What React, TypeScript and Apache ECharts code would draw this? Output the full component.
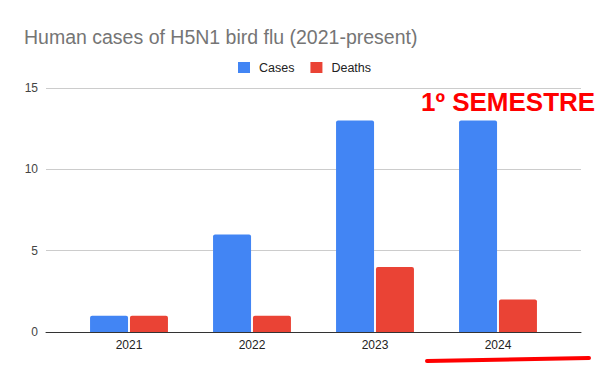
import React, { useEffect, useRef } from "react";
import * as echarts from "echarts";

const years = ["2021", "2022", "2023", "2024"];
const cases = [1, 6, 13, 13];
const deaths = [1, 1, 4, 2];
const yMin = 0;
const yMax = 15;
const yStep = 5;

const FONT = "'Liberation Sans', Arial, sans-serif";

export default function App() {
  const ref = useRef<HTMLDivElement>(null);
  useEffect(() => {
    if (!ref.current) return;
    const chart = echarts.init(ref.current, undefined, { renderer: "svg" });
    chart.setOption({
      animation: false,
      backgroundColor: "#ffffff",
      title: {
        text: "Human cases of H5N1 bird flu (2021-present)",
        left: 19,
        top: 22,
        textStyle: { fontFamily: FONT, fontSize: 19.5, fontWeight: "normal", color: "#757575" },
      },
      legend: {
        left: 233,
        top: 56,
        itemWidth: 12,
        itemHeight: 11,
        itemGap: 16,
        icon: "rect",
        textStyle: { fontFamily: FONT, fontSize: 12.5, color: "#222222", padding: [0, 0, 0, 4] },
        data: ["Cases", "Deaths"],
      },
      grid: [
        { left: 46, right: 19, top: 88, bottom: 39 },
        { left: 67.5, right: 40.5, top: 88, bottom: 39 },
      ],
      xAxis: [
        {
          type: "value",
          gridIndex: 0,
          min: 0,
          max: 1,
          axisLine: { show: true, onZero: false, lineStyle: { color: "#333333", width: 1 } },
          axisTick: { show: false },
          axisLabel: { show: false },
          splitLine: { show: false },
        },
        {
          type: "category",
          gridIndex: 1,
          data: years,
          axisLine: { show: false },
          axisTick: { show: false },
          axisLabel: { fontFamily: FONT, fontSize: 12, color: "#222222", margin: 7 },
          splitLine: { show: false },
        },
      ],
      yAxis: [
        {
          type: "value",
          gridIndex: 0,
          min: yMin,
          max: yMax,
          interval: yStep,
          axisLine: { show: false },
          axisTick: { show: false },
          axisLabel: { fontFamily: FONT, fontSize: 12, color: "#444444", margin: 8 },
          splitLine: { show: true, lineStyle: { color: "#cccccc", width: 1 } },
        },
        {
          type: "value",
          gridIndex: 1,
          min: yMin,
          max: yMax,
          interval: yStep,
          show: false,
          splitLine: { show: false },
        },
      ],
      series: [
        {
          name: "Cases",
          type: "bar",
          xAxisIndex: 1,
          yAxisIndex: 1,
          data: cases,
          barWidth: 38,
          barGap: "5%",
          itemStyle: { color: "#4285f4", borderRadius: [2, 2, 0, 0] },
        },
        {
          name: "Deaths",
          type: "bar",
          xAxisIndex: 1,
          yAxisIndex: 1,
          data: deaths,
          barWidth: 38,
          barGap: "5%",
          itemStyle: { color: "#ea4335", borderRadius: [2, 2, 0, 0] },
        },
      ],
      graphic: [
        {
          type: "text",
          x: 421,
          y: 102,
          style: {
            text: "1º SEMESTRE",
            font: "bold 26px 'Liberation Sans', Arial, sans-serif",
            fill: "#ff0000",
            verticalAlign: "middle",
            align: "left",
          },
        },
        {
          type: "line",
          shape: { x1: 427, y1: 361, x2: 589, y2: 358 },
          style: { stroke: "#ff0000", lineWidth: 4, lineCap: "round" },
        },
      ],
    });
    return () => chart.dispose();
  }, []);
  return <div ref={ref} style={{ width: 600, height: 371, position: "absolute", left: 0, top: 0 }} />;
}
